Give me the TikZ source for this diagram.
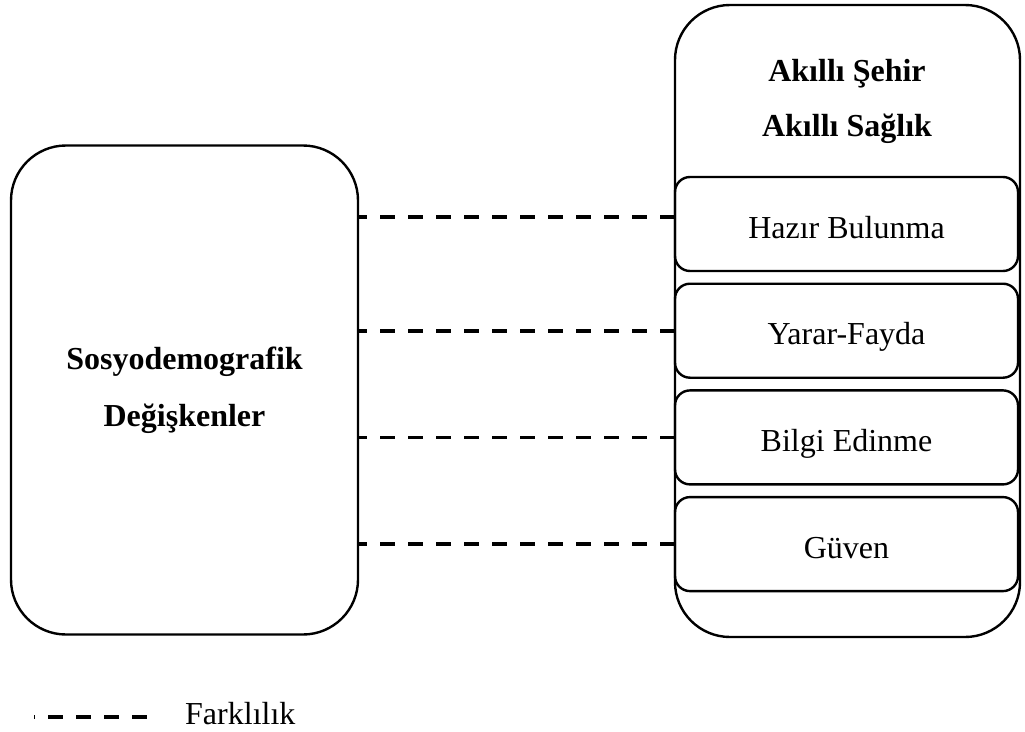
\documentclass[tikz,border=0pt]{standalone}
\usepackage{fontspec}
\setmainfont{Liberation Serif}
\usetikzlibrary{positioning}

\begin{document}
\begin{tikzpicture}[x=1pt,y=-1pt,node distance=106.7pt,
  big box/.style={rectangle,draw,line width=2.4pt,rounded corners=55pt,
    align=center,font=\fontsize{32}{57}\selectfont\bfseries},
  sub box/.style={rectangle,draw,line width=2.4pt,rounded corners=15pt,
    minimum width=343pt,minimum height=94pt,text height=30pt,text depth=2pt,
    font=\fontsize{32}{38}\selectfont},
  link/.style={draw,line width=3.6pt,dash pattern=on 15pt off 13pt,dash phase=7pt}]

  \useasboundingbox (0,0) rectangle (1025,731);

  \node[big box,minimum width=347pt,minimum height=489pt] (SD) at (184.5,390)
    {Sosyodemografik\\Değişkenler};
  \node[big box,minimum width=345pt,minimum height=632pt] (AK) at (847.5,321) {};
  \node[align=center,font=\fontsize{32}{55}\selectfont\bfseries] (AS) at (847,101.5)
    {Akıllı Şehir\\Akıllı Sağlık};

  \node[sub box] (HB) at (846.5,224) {Hazır Bulunma};
  \node[sub box] (YF) [below of=HB] {Yarar-Fayda};
  \node[sub box] (BE) [below of=YF] {Bilgi Edinme};
  \node[sub box] (GV) [below of=BE] {Güven};

  \path
    ([yshift=7pt]HB.west -| SD.east) edge[link] ([yshift=7pt]HB.west)
    (YF.west -| SD.east) edge[link] (YF.west)
    (BE.west -| SD.east) edge[link] (BE.west)
    (GV.west -| SD.east) edge[link] (GV.west);

  % legend
  \coordinate (L0) at (34,717);
  \coordinate (L1) at (147,717);
  \path (L0) edge[link,dash phase=14pt] (L1);
  \node[anchor=base west,inner sep=0pt,font=\fontsize{32}{38}\selectfont] (FK)
    at (185,724) {Farklılık};
\end{tikzpicture}
\end{document}
